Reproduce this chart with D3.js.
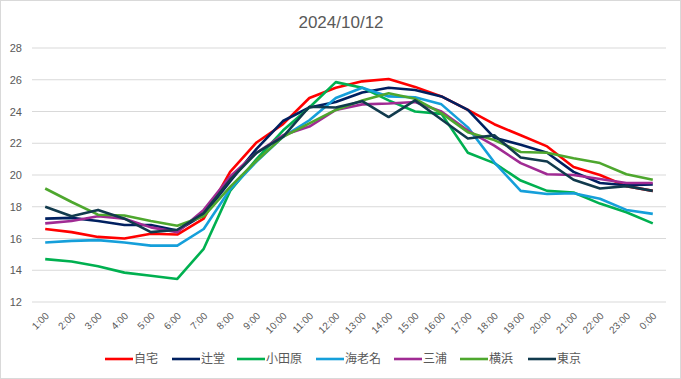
<!DOCTYPE html>
<html>
<head>
<meta charset="utf-8">
<script src="https://cdn.jsdelivr.net/npm/d3@7"></script>
<style>
  body { margin: 0; background: #fff; }
  text { font-family: "Liberation Sans", Arial, sans-serif; fill: #595959; }
  .jp { font-family: "Noto Sans CJK JP", sans-serif; }
</style>
</head>
<body>
<div id="container"></div>
<script>
var hours = ['1:00','2:00','3:00','4:00','5:00','6:00','7:00','8:00','9:00','10:00','11:00','12:00',
  '13:00','14:00','15:00','16:00','17:00','18:00','19:00','20:00','21:00','22:00','23:00','0:00'];

var yTicks = [12, 14, 16, 18, 20, 22, 24, 26, 28];

var names = ['自宅', '辻堂', '小田原', '海老名', '三浦', '横浜', '東京'];
var colors = ['#ff0000', '#002060', '#00b050', '#159fda', '#a02b93', '#4ea72e', '#113a4d'];

var jitaku    = [16.6, 16.4, 16.1, 16.0, 16.3, 16.25, 17.25, 20.2, 22.05, 23.2, 24.85, 25.5, 25.9, 26.05, 25.55, 24.95, 24.1, 23.2, 22.5, 21.8, 20.5, 20.0, 19.3, 19.0];
var tsujido   = [17.25, 17.3, 17.1, 16.85, 16.85, 16.5, 17.5, 19.6, 21.65, 23.4, 24.25, 24.6, 25.2, 25.5, 25.35, 24.95, 24.1, 22.35, 21.9, 21.4, 20.2, 19.5, 19.35, 19.4];
var odawara   = [14.7, 14.55, 14.25, 13.85, 13.65, 13.45, 15.35, 19.0, 21.0, 22.8, 24.25, 25.85, 25.5, 24.7, 24.0, 23.85, 21.4, 20.75, 19.65, 19.0, 18.9, 18.2, 17.65, 16.95];
var ebina     = [15.75, 15.85, 15.9, 15.75, 15.55, 15.55, 16.6, 19.1, 20.85, 22.4, 23.45, 24.85, 25.5, 24.95, 24.9, 24.45, 23.0, 20.8, 19.0, 18.8, 18.85, 18.5, 17.8, 17.55];
var miura     = [16.95, 17.1, 17.4, 17.25, 16.7, 16.4, 17.8, 19.9, 21.4, 22.5, 23.05, 24.1, 24.45, 24.5, 24.6, 24.0, 22.8, 21.85, 20.75, 20.05, 20.0, 19.75, 19.5, 19.5];
var yokohama  = [19.15, 18.3, 17.5, 17.45, 17.1, 16.8, 17.4, 19.25, 20.9, 22.4, 23.25, 24.1, 24.7, 25.15, 24.8, 23.9, 22.7, 22.2, 21.45, 21.4, 21.05, 20.75, 20.05, 19.7];
var tokyo     = [18.0, 17.4, 17.8, 17.25, 16.4, 16.55, 17.6, 19.7, 21.4, 22.4, 24.3, 24.25, 24.65, 23.65, 24.7, 23.5, 22.3, 22.5, 21.1, 20.85, 19.7, 19.15, 19.3, 19.0];

var series = [jitaku, tsujido, odawara, ebina, miura, yokohama, tokyo];

var width = 681, height = 379;

var svg = d3.select('#container').append('svg')
  .attr('width', width).attr('height', height);

// chart border
svg.append('rect')
  .attr('x', 0.5).attr('y', 0.5)
  .attr('width', width - 1).attr('height', height - 1)
  .attr('fill', '#fff').attr('stroke', '#d9d9d9');

var x = d3.scaleBand().domain(hours).range([32, 666]);
var y = d3.scaleLinear().domain([12, 28]).range([302, 48]);

// gridlines
svg.append('g').selectAll('line')
  .data(yTicks).enter().append('line')
  .attr('x1', 32).attr('x2', 666)
  .attr('y1', function(d) { return y(d); })
  .attr('y2', function(d) { return y(d); })
  .attr('stroke', '#d9d9d9').attr('stroke-width', 1);

// y axis labels
var yAxis = d3.axisLeft(y).tickValues(yTicks).tickSize(0).tickPadding(0);
var gy = svg.append('g').attr('transform', 'translate(22,0)').call(yAxis);
gy.select('.domain').remove();
gy.selectAll('text').style('font-size', '11px').attr('fill', '#595959')
  .style('font-family', '"Liberation Sans", Arial, sans-serif');

// x axis labels
var xAxis = d3.axisBottom(x).tickSize(0).tickPadding(0);
var gx = svg.append('g').attr('transform', 'translate(0,302)').call(xAxis);
gx.select('.domain').remove();
gx.selectAll('text')
  .style('font-size', '10px').attr('fill', '#595959')
  .style('font-family', '"Liberation Sans", Arial, sans-serif')
  .attr('text-anchor', 'end')
  .attr('dy', '0.35em')
  .attr('transform', 'translate(2,12) rotate(-45)')
  .attr('y', 0);

// lines
var line = d3.line()
  .x(function(d, i) { return x(hours[i]) + x.bandwidth() / 2; })
  .y(function(d) { return y(d); });

svg.append('g').selectAll('path')
  .data(series).enter().append('path')
  .attr('d', line)
  .attr('fill', 'none')
  .attr('stroke', function(d, i) { return colors[i]; })
  .attr('stroke-width', 2.6)
  .attr('stroke-linejoin', 'round');

// title
svg.append('text')
  .attr('x', 341).attr('y', 28)
  .attr('text-anchor', 'middle')
  .style('font-size', '17px')
  .text('2024/10/12');

// legend
var legendX = [105, 172, 237, 316, 394, 460, 528];
var lg = svg.append('g').selectAll('g')
  .data(names).enter().append('g')
  .attr('transform', function(d, i) { return 'translate(' + legendX[i] + ',359)'; });

lg.append('line')
  .attr('x1', 0).attr('x2', 28)
  .attr('stroke', function(d, i) { return colors[i]; })
  .attr('stroke-width', 2.6);

lg.append('text')
  .attr('class', 'jp')
  .attr('x', 29).attr('dy', '0.35em')
  .style('font-size', '12px')
  .text(function(d) { return d; });
</script>
</body>
</html>
